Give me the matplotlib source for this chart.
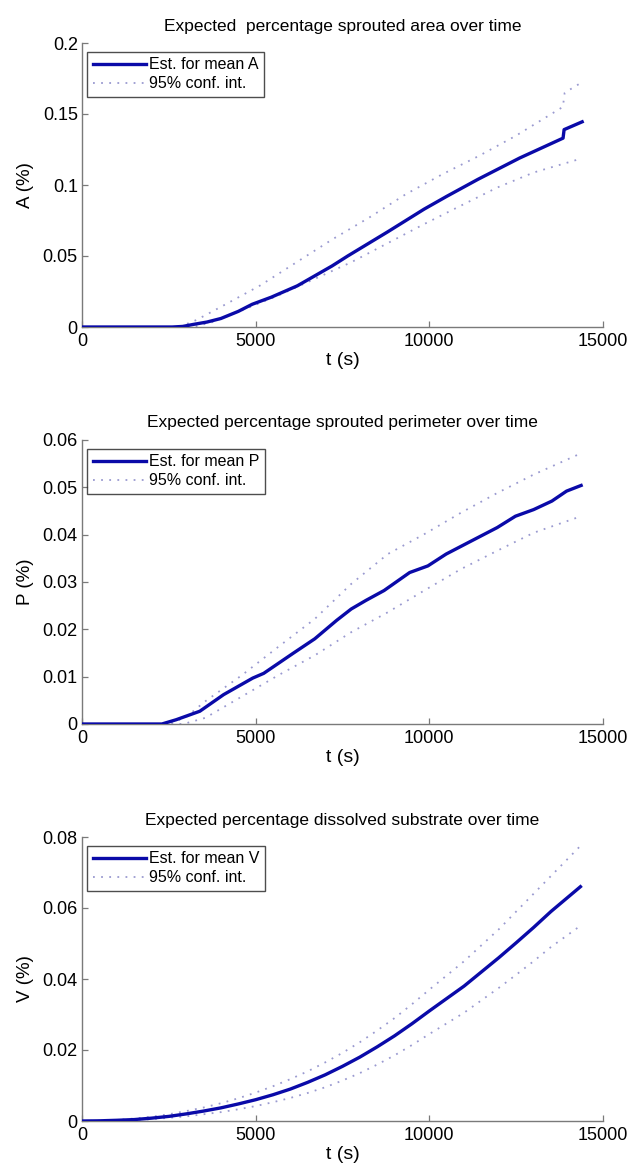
import matplotlib
matplotlib.use("Agg")
import matplotlib.pyplot as plt

# ---- data ----
t_A = [0, 2600, 2900, 3200, 3600, 4000, 4500, 4900, 5450, 6200, 7200, 7650, 8800, 9850, 10500, 11400, 12600, 13850, 13880, 14400]
A_mean = [0, 0, 0.0004, 0.0018, 0.0035, 0.006, 0.011, 0.016, 0.021, 0.029, 0.043, 0.050, 0.067, 0.083, 0.092, 0.104, 0.119, 0.133, 0.139, 0.1445]
t_A_up = [0, 2800, 3300, 4076, 5126, 6176, 7227, 8277, 9328, 10378, 11429, 12479, 13845, 13897, 14370]
A_up = [0, 0, 0.005, 0.0152, 0.0292, 0.0456, 0.062, 0.0772, 0.0936, 0.1076, 0.1205, 0.1345, 0.155, 0.165, 0.172]
t_A_lo = [0, 3200, 3761, 4601, 5651, 6702, 7752, 9853, 10903, 11954, 13004, 14370]
A_lo = [0, 0, 0.0035, 0.0117, 0.0222, 0.0339, 0.0456, 0.0725, 0.0854, 0.0982, 0.1088, 0.1186]

t_P = [0, 2300, 2710, 3393, 4076, 4916, 5231, 6071, 6702, 7332, 7752, 8172, 8697, 9433, 9958, 10483, 11113, 11954, 12479, 13004, 13529, 13950, 14370]
P_mean = [0, 0, 0.0009, 0.0027, 0.0062, 0.0097, 0.0107, 0.0149, 0.018, 0.0219, 0.0243, 0.0261, 0.0282, 0.032, 0.0334, 0.0359, 0.0383, 0.0415, 0.0439, 0.0453, 0.0471, 0.0492, 0.0504]
t_P_up = [0, 2500, 3000, 3550, 4601, 5651, 6702, 7752, 8803, 9853, 10903, 11954, 13004, 14370]
P_up = [0, 0, 0.0015, 0.0048, 0.0103, 0.0163, 0.0222, 0.0296, 0.0359, 0.0401, 0.0446, 0.0488, 0.0527, 0.0572]
t_P_lo = [0, 2920, 3550, 4601, 5651, 6702, 7752, 8803, 9853, 10903, 11954, 13004, 14370]
P_lo = [0, 0, 0.0013, 0.0058, 0.0103, 0.0145, 0.0194, 0.0236, 0.0282, 0.0327, 0.0366, 0.0404, 0.0439]

t_V = [0, 500, 1000, 1500, 2000, 2500, 3000, 3500, 4000, 4500, 5000, 5500, 6000, 6500, 7000, 7500,
       8000, 8500, 9000, 9500, 10000, 10500, 11000, 11500, 12000, 12500, 13000, 13500, 14350]
V_mean = [0, 0.00005, 0.0002, 0.0004, 0.0008, 0.0013, 0.0020, 0.0028, 0.0037, 0.0048, 0.0060, 0.0074,
          0.0090, 0.0109, 0.0130, 0.0154, 0.0180, 0.0209, 0.0240, 0.0274, 0.0310, 0.0345, 0.0380,
          0.0420, 0.0460, 0.0502, 0.0545, 0.0590, 0.0660]
V_up = [0, 0.0001, 0.0003, 0.0007, 0.0012, 0.0019, 0.0028, 0.0038, 0.0050, 0.0064, 0.0080, 0.0098,
        0.0118, 0.0140, 0.0165, 0.0192, 0.0222, 0.0255, 0.0290, 0.0329, 0.0370, 0.0410, 0.0450,
        0.0495, 0.0540, 0.0590, 0.0640, 0.0690, 0.0775]
V_lo = [0, 0.0000, 0.0001, 0.0003, 0.0005, 0.0009, 0.0013, 0.0019, 0.0025, 0.0033, 0.0042, 0.0053,
        0.0065, 0.0079, 0.0095, 0.0114, 0.0135, 0.0159, 0.0185, 0.0214, 0.0245, 0.0275, 0.0305,
        0.0340, 0.0375, 0.0412, 0.0450, 0.0490, 0.0550]

titles = ["Expected  percentage sprouted area over time",
          "Expected percentage sprouted perimeter over time",
          "Expected percentage dissolved substrate over time"]
ylabels = ["A (%)", "P (%)", "V (%)"]
mean_labels = ["Est. for mean A", "Est. for mean P", "Est. for mean V"]
ci_label = "95% conf. int."
x_ticks = [0, 5000, 10000, 15000]
y_ticks = [[0, 0.05, 0.1, 0.15, 0.2],
           [0, 0.01, 0.02, 0.03, 0.04, 0.05, 0.06],
           [0, 0.02, 0.04, 0.06, 0.08]]
y_ticklabels = [["0", "0.05", "0.1", "0.15", "0.2"],
                ["0", "0.01", "0.02", "0.03", "0.04", "0.05", "0.06"],
                ["0", "0.02", "0.04", "0.06", "0.08"]]
ymax = [0.2, 0.06, 0.08]

plt.rcParams['font.family'] = ['Liberation Sans', 'DejaVu Sans']

fig = plt.figure(figsize=(6.32, 11.70), dpi=100)
W, H = 632, 1170
boxes = [(43, 327), (440, 724), (837, 1121)]
left, right = 82, 603

series = [
    (t_A, A_mean, t_A_up, A_up, t_A_lo, A_lo),
    (t_P, P_mean, t_P_up, P_up, t_P_lo, P_lo),
    (t_V, V_mean, t_V, V_up, t_V, V_lo),
]

mean_color = '#0a0aa8'
ci_color = '#9a9ad0'
spine_color = '#7a7a7a'

for i, (top, bot) in enumerate(boxes):
    ax = fig.add_axes([left / W, 1 - bot / H, (right - left) / W, (bot - top) / H])
    tm, ym, tu, yu, tl, yl = series[i]
    ax.plot(tm, ym, color=mean_color, lw=2.4, label=mean_labels[i], zorder=3,
            solid_joinstyle='round')
    ax.plot(tu, yu, color=ci_color, lw=1.3, ls=(0, (1, 3.5)), label=ci_label, zorder=2)
    ax.plot(tl, yl, color=ci_color, lw=1.3, ls=(0, (1, 3.5)), zorder=2)
    ax.set_xlim(0, 15000)
    ax.set_ylim(0, ymax[i])
    ax.set_xticks(x_ticks)
    ax.set_xticklabels([str(v) for v in x_ticks])
    ax.set_yticks(y_ticks[i])
    ax.set_yticklabels(y_ticklabels[i])
    for s in ['top', 'right']:
        ax.spines[s].set_visible(False)
    for s in ['left', 'bottom']:
        ax.spines[s].set_color(spine_color)
        ax.spines[s].set_linewidth(1.0)
    ax.tick_params(direction='in', length=4, width=0.9, color=spine_color,
                   labelsize=13, labelcolor='black')
    ax.tick_params(axis='x', pad=4)
    ax.tick_params(axis='y', pad=3)
    ax.set_title(titles[i], fontsize=12.5, pad=9)
    ax.set_xlabel("t (s)", fontsize=14, labelpad=2)
    ax.set_ylabel(ylabels[i], fontsize=13.5, labelpad=6)
    leg = ax.legend(loc='upper left', bbox_to_anchor=(0.01, 0.97), fontsize=11.5,
                    frameon=True, fancybox=False, edgecolor='#202020',
                    handlelength=3.3, handletextpad=0.2, borderpad=0.35,
                    labelspacing=0.25, borderaxespad=0.0)
    leg.get_frame().set_linewidth(1.0)

fig.savefig("out.png", dpi=100)
